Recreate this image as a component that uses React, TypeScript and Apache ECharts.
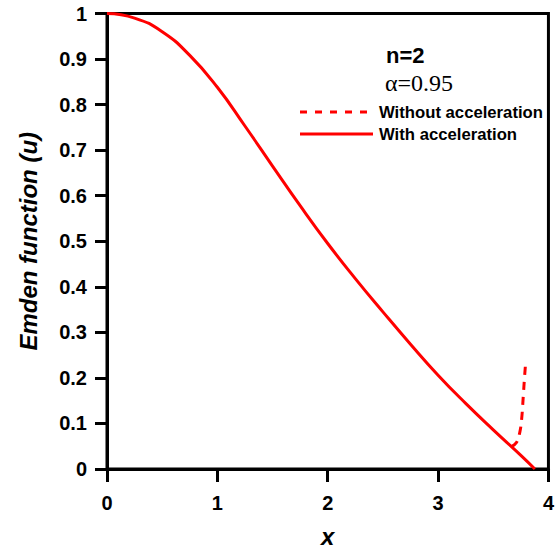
import React, { useEffect, useRef } from "react";
import * as echarts from "echarts";

const withX = [0, 0.25, 0.5, 0.75, 1.0, 1.25, 1.5, 1.75, 2.0, 2.25, 2.5, 2.75, 3.0, 3.25, 3.5, 3.75, 3.877];
const withU = [1.0, 0.99, 0.96, 0.908, 0.838, 0.753, 0.665, 0.578, 0.495, 0.418, 0.345, 0.274, 0.206, 0.144, 0.086, 0.03, 0.0];

const withoutX = [3.665, 3.71, 3.74, 3.757, 3.772, 3.783, 3.792];
const withoutU = [0.049, 0.058, 0.08, 0.109, 0.16, 0.2, 0.229];

const seriesNames = ["Without acceleration", "With acceleration"];
const annotN = "n=2";
const annotAlpha = "\u03b1=0.95";

const SANS = "'Liberation Sans', Arial, Helvetica, sans-serif";
const SERIF = "'Liberation Serif', 'Times New Roman', serif";
const RED = "#ff0000";

export default function App() {
  const ref = useRef<HTMLDivElement>(null);
  useEffect(() => {
    if (!ref.current) return;
    const chart = echarts.init(ref.current, undefined, { renderer: "svg" });
    chart.setOption({
      animation: false,
      backgroundColor: "#ffffff",
      grid: {
        left: 107,
        right: 1,
        top: 13.5,
        bottom: 83.5,
        show: true,
        borderColor: "#000",
        borderWidth: 3,
        backgroundColor: "transparent",
      },
      xAxis: {
        type: "value",
        min: 0,
        max: 4,
        interval: 1,
        name: "x",
        nameLocation: "middle",
        nameGap: 55,
        nameTextStyle: { fontFamily: SANS, fontWeight: "bold", fontStyle: "italic", fontSize: 24, color: "#000" },
        splitLine: { show: false },
        axisLine: { show: true, onZero: false, lineStyle: { color: "#000", width: 3 } },
        axisTick: { show: true, inside: false, length: 13, lineStyle: { color: "#000", width: 3 } },
        axisLabel: { margin: 24, fontFamily: SANS, fontWeight: "bold", fontSize: 20, color: "#000" },
      },
      yAxis: {
        type: "value",
        min: 0,
        max: 1,
        interval: 0.1,
        name: "Emden function (u)",
        nameLocation: "middle",
        nameRotate: 90,
        nameGap: 67,
        nameTextStyle: { fontFamily: SANS, fontWeight: "bold", fontStyle: "italic", fontSize: 24, color: "#000" },
        splitLine: { show: false },
        axisLine: { show: true, onZero: false, lineStyle: { color: "#000", width: 3 } },
        axisTick: { show: true, inside: false, length: 12, lineStyle: { color: "#000", width: 3 } },
        axisLabel: { margin: 20, fontFamily: SANS, fontWeight: "bold", fontSize: 20, color: "#000" },
      },
      graphic: [
        {
          type: "text",
          x: 386,
          y: 55,
          style: { text: annotN, font: `bold 22px ${SANS}`, fill: "#000", verticalAlign: "middle" },
        },
        {
          type: "text",
          x: 385,
          y: 83,
          style: { text: annotAlpha, font: `24px ${SERIF}`, fill: "#000", verticalAlign: "middle" },
        },
        {
          type: "line",
          shape: { x1: 300, y1: 112, x2: 370, y2: 112 },
          style: { stroke: RED, lineWidth: 3, lineDash: [7, 8] },
        },
        {
          type: "text",
          x: 379,
          y: 112,
          style: { text: seriesNames[0], font: `bold 16.7px ${SANS}`, fill: "#000", verticalAlign: "middle" },
        },
        {
          type: "line",
          shape: { x1: 300, y1: 134, x2: 373, y2: 134 },
          style: { stroke: RED, lineWidth: 3 },
        },
        {
          type: "text",
          x: 379,
          y: 134,
          style: { text: seriesNames[1], font: `bold 16.7px ${SANS}`, fill: "#000", verticalAlign: "middle" },
        },
      ],
      series: [
        {
          name: seriesNames[0],
          type: "line",
          data: withoutX.map((x, i) => [x, withoutU[i]]),
          smooth: 0.4,
          symbol: "none",
          clip: false,
          lineStyle: { color: RED, width: 3, type: [8, 7] },
          itemStyle: { color: RED },
        },
        {
          name: seriesNames[1],
          type: "line",
          data: withX.map((x, i) => [x, withU[i]]),
          smooth: 0.5,
          symbol: "none",
          clip: false,
          lineStyle: { color: RED, width: 3, type: "solid" },
          itemStyle: { color: RED },
        },
      ],
    });
    return () => chart.dispose();
  }, []);
  return (
    <div
      ref={ref}
      style={{ position: "fixed", left: 0, top: 0, width: 557, height: 553, background: "#fff" }}
    />
  );
}
